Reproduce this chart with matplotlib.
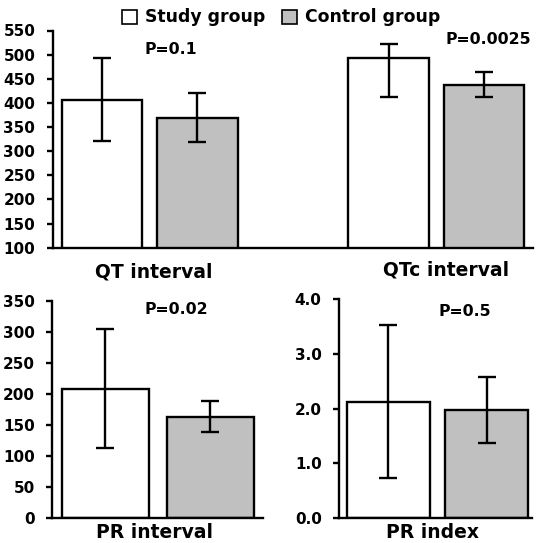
import matplotlib
matplotlib.use("Agg")
import matplotlib.pyplot as plt
from matplotlib.patches import Rectangle
import numpy as np

plt.rcParams['font.family'] = ['DejaVu Sans']
plt.rcParams['font.weight'] = 'bold'

# ---------------- data ----------------
series = ["Study group", "Control group"]
series_colors = ["#ffffff", "#c0c0c0"]

qt_categories = ["QT interval", "QTc interval"]
qt_study_mean = [407, 494]
qt_study_err_low = [85, 81]
qt_study_err_high = [87, 28]
qt_control_mean = [368, 437]
qt_control_err_low = [50, 25]
qt_control_err_high = [53, 26]
qt_pvalues = ["P=0.1", "P=0.0025"]
qt_yticks = [100, 150, 200, 250, 300, 350, 400, 450, 500, 550]

pri_category = "PR interval"
pri_mean = [208, 163]          # study, control
pri_err_low = [95, 24]
pri_err_high = [96, 26]
pri_pvalue = "P=0.02"
pri_yticks = [0, 50, 100, 150, 200, 250, 300, 350]

prx_category = "PR index"
prx_mean = [2.12, 1.97]        # study, control
prx_err_low = [1.40, 0.60]
prx_err_high = [1.41, 0.61]
prx_pvalue = "P=0.5"
prx_yticks = [0.0, 1.0, 2.0, 3.0, 4.0]
prx_yticklabels = ["0.0", "1.0", "2.0", "3.0", "4.0"]

# ---------------- layout ----------------
W, H = 542, 543
fig = plt.figure(figsize=(W / 100, H / 100), dpi=100)

def fx(px):
    return px / W

def fy(py):
    return 1 - py / H

LW = 1.7
TICK_FS = 11
CAT_FS = 13.5
P_FS = 11.3

def style_axes(ax):
    for s in ["top", "right"]:
        ax.spines[s].set_visible(False)
    for s in ["left", "bottom"]:
        ax.spines[s].set_linewidth(LW)
        ax.spines[s].set_color("black")
    ax.tick_params(axis="y", direction="out", length=4.5, width=LW,
                   labelsize=TICK_FS, pad=8.2, colors="black")
    ax.tick_params(axis="x", length=0, labelbottom=False)
    for lab in ax.get_yticklabels():
        lab.set_fontweight("bold")

def draw_bars(ax, xs, means, lows, highs, color, width):
    ax.bar(xs, means, width=width, color=color, edgecolor="black",
           linewidth=LW, zorder=2)
    ax.errorbar(xs, means, yerr=[lows, highs], fmt="none", ecolor="black",
                elinewidth=LW, capsize=6.4, capthick=LW, zorder=3)

# Top panel: QT / QTc
ax1 = fig.add_axes([fx(53), fy(247.7), fx(533) - fx(53), fy(30.5) - fy(247.7)])
x = np.arange(len(qt_categories))
off = 0.1664
bw = 0.2806
draw_bars(ax1, x - off, qt_study_mean, qt_study_err_low, qt_study_err_high,
          series_colors[0], bw)
draw_bars(ax1, x + off, qt_control_mean, qt_control_err_low, qt_control_err_high,
          series_colors[1], bw)
ax1.set_xlim(-0.3365, 1.3365)
ax1.set_ylim(qt_yticks[0], qt_yticks[-1])
ax1.set_yticks(qt_yticks)
style_axes(ax1)

# Bottom-left: PR interval
ax2 = fig.add_axes([fx(52.3), fy(518.3), fx(263) - fx(52.3), fy(300.6) - fy(518.3)])
draw_bars(ax2, [-0.5], [pri_mean[0]], [pri_err_low[0]], [pri_err_high[0]],
          series_colors[0], 0.825)
draw_bars(ax2, [0.5], [pri_mean[1]], [pri_err_low[1]], [pri_err_high[1]],
          series_colors[1], 0.825)
ax2.set_xlim(-1.006, 1.002)
ax2.set_ylim(pri_yticks[0], pri_yticks[-1])
ax2.set_yticks(pri_yticks)
style_axes(ax2)

# Bottom-right: PR index
ax3 = fig.add_axes([fx(339.3), fy(517.8), fx(532) - fx(339.3), fy(299.3) - fy(517.8)])
draw_bars(ax3, [-0.5], [prx_mean[0]], [prx_err_low[0]], [prx_err_high[0]],
          series_colors[0], 0.844)
draw_bars(ax3, [0.5], [prx_mean[1]], [prx_err_low[1]], [prx_err_high[1]],
          series_colors[1], 0.844)
ax3.set_xlim(-1.0, 0.96)
ax3.set_ylim(prx_yticks[0], prx_yticks[-1])
ax3.set_yticks(prx_yticks)
ax3.set_yticklabels(prx_yticklabels)
style_axes(ax3)

# Category labels
fig.text(fx(153.7), fy(272.5), qt_categories[0], ha="center", va="center",
         fontsize=CAT_FS, fontweight="bold")
fig.text(fx(446), fy(270), qt_categories[1], ha="center", va="center",
         fontsize=CAT_FS, fontweight="bold")
fig.text(fx(154.3), fy(532.5), pri_category, ha="center", va="center",
         fontsize=CAT_FS, fontweight="bold")
fig.text(fx(432.6), fy(532.5), prx_category, ha="center", va="center",
         fontsize=CAT_FS, fontweight="bold")

# P-values
fig.text(fx(170.6), fy(49), qt_pvalues[0], ha="center", va="center",
         fontsize=P_FS, fontweight="bold")
fig.text(fx(488.3), fy(39.5), qt_pvalues[1], ha="center", va="center",
         fontsize=P_FS, fontweight="bold")
fig.text(fx(176.7), fy(309), pri_pvalue, ha="center", va="center",
         fontsize=P_FS, fontweight="bold")
fig.text(fx(465), fy(312), prx_pvalue, ha="center", va="center",
         fontsize=P_FS, fontweight="bold")

# Legend (manual)
leg_boxes = [(121.7, 10, 15, 14), (281.5, 10, 15.5, 14)]
leg_text_x = [145, 304.6]
for (bx, by, bwid, bh), tx, lab, col in zip(leg_boxes, leg_text_x, series, series_colors):
    fig.patches.append(Rectangle((fx(bx), fy(by + bh)), bwid / W, bh / H,
                                 transform=fig.transFigure, facecolor=col,
                                 edgecolor="black", linewidth=1.2))
    fig.text(fx(tx), fy(16.5), lab, ha="left", va="center",
             fontsize=12.4, fontweight="bold")

fig.savefig("out.png", dpi=100)
